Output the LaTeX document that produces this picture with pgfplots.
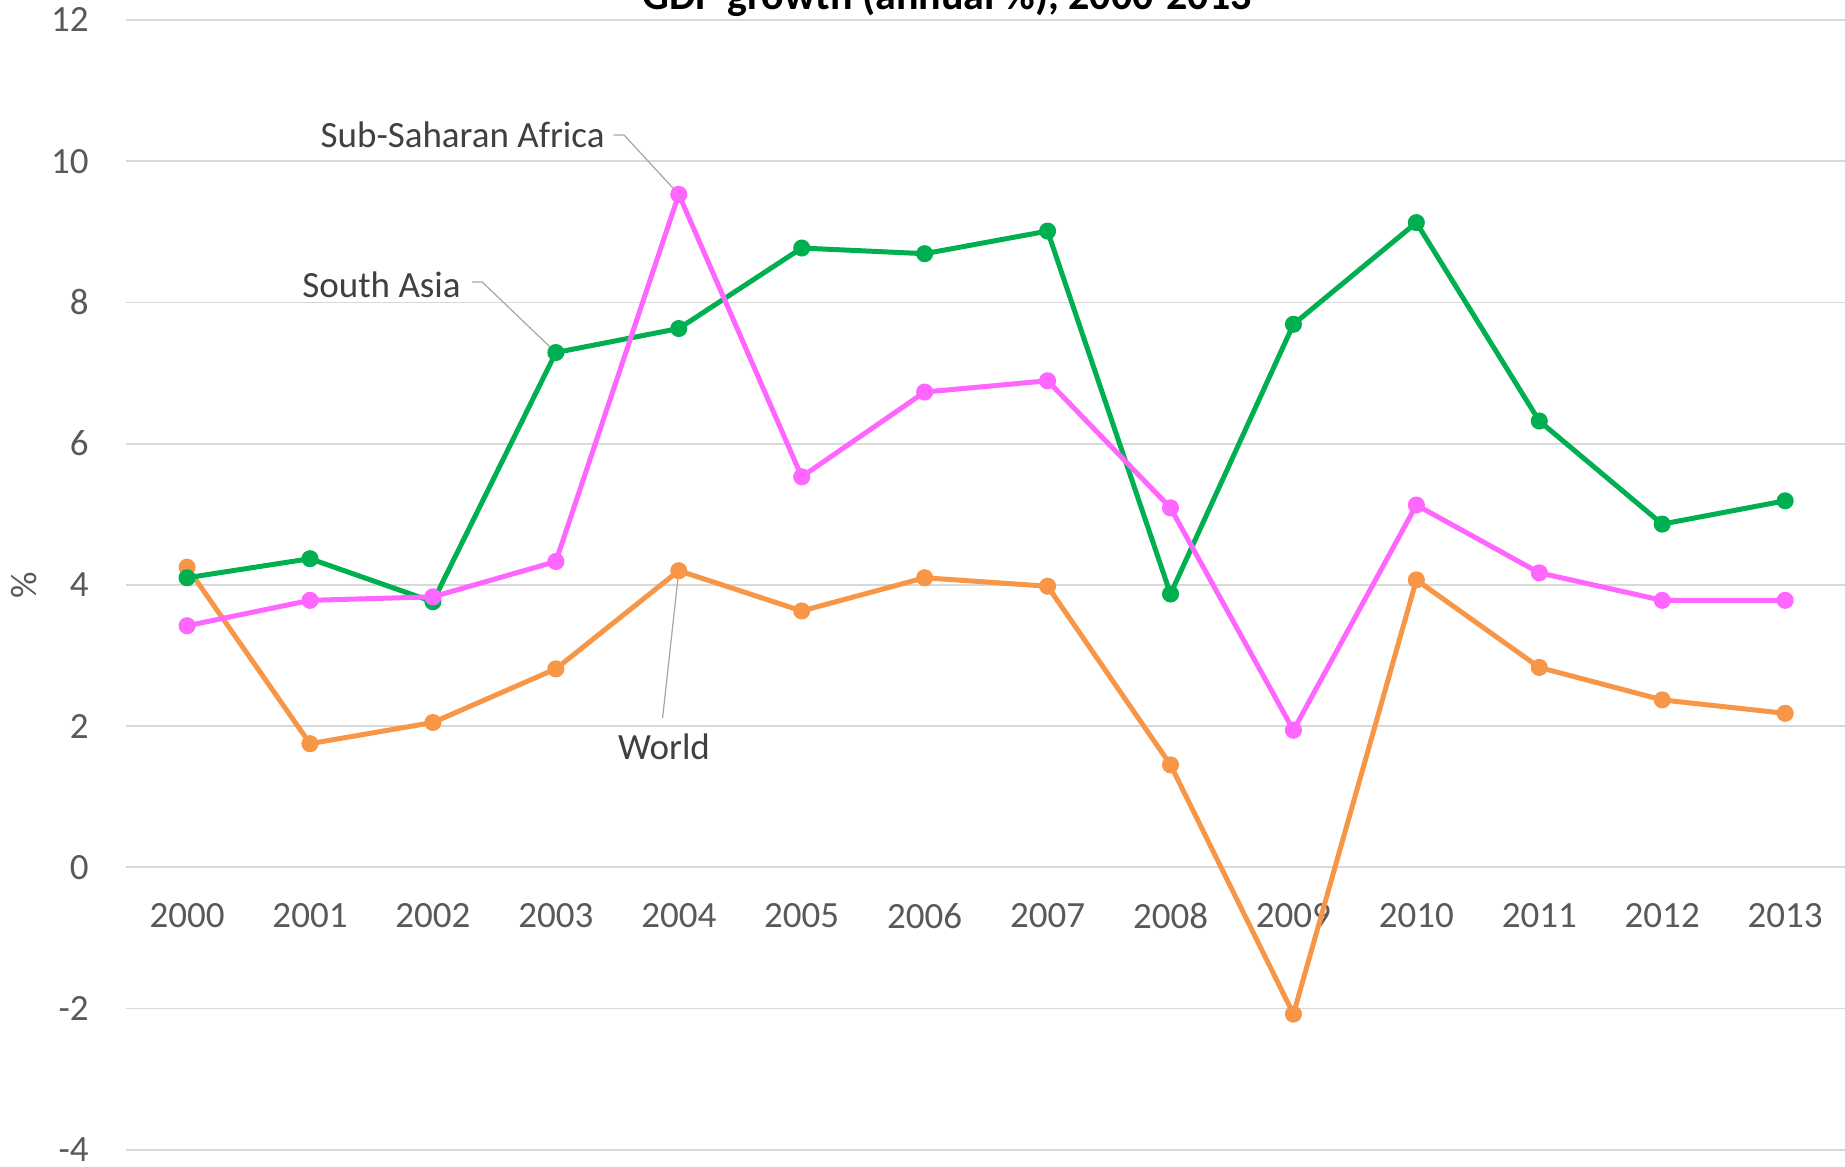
\documentclass[border=0pt]{standalone}
\usepackage{pgfplots}
\pgfplotsset{compat=1.18}
\usepackage{fontspec}
\setmainfont{Carlito}

\definecolor{worldc}{HTML}{F79646}
\definecolor{sasiac}{HTML}{00B050}
\definecolor{ssac}{HTML}{FF66FF}
\definecolor{gridc}{HTML}{D9D9D9}
\definecolor{tickc}{HTML}{595959}
\definecolor{labc}{HTML}{404040}
\definecolor{leadc}{HTML}{A6A6A6}

% GDP growth, annual %, index 0 = 2000
\pgfplotstableread{
x world sasia ssa
0  4.25 4.10 3.42
1  1.75 4.37 3.78
2  2.05 3.76 3.83
3  2.81 7.29 4.33
4  4.20 7.63 9.53
5  3.63 8.77 5.53
6  4.10 8.69 6.73
7  3.98 9.01 6.89
8  1.45 3.87 5.09
9  -2.08 7.69 1.94
10 4.07 9.13 5.13
11 2.83 6.32 4.17
12 2.37 4.86 3.78
13 2.18 5.19 3.78
}\gdpdata

\begin{document}
\begin{tikzpicture}
\begin{axis}[
  name=ax,
  scale only axis,
  width=860.45pt, height=564.8pt,
  xmin=-0.5, xmax=13.5,
  ymin=-4, ymax=12,
  clip=false,
  axis line style={draw=none},
  major tick length=0pt,
  xtick={0,...,13},
  xticklabels={2000,2001,2002,2003,2004,2005,2006,2007,2008,2009,2010,2011,2012,2013},
  ytick={-4,-2,0,2,4,6,8,10,12},
  yticklabels={-4,-2,0,2,4,6,8,10,12},
  ymajorgrids,
  major grid style={draw=gridc, line width=0.9pt},
  every tick label/.append style={font=\fontsize{18.5}{22}\selectfont, text=tickc, inner sep=0pt},
  y tick label style={anchor=east, xshift=-18.3pt},
  x tick label style={anchor=center, yshift=116.8pt},
  every axis plot/.append style={line width=2.5pt, mark=*, mark size=3pt},
]
\addplot[color=worldc, mark options={fill=worldc, draw=worldc}] table[x=x, y=world] {\gdpdata};
\addplot[color=sasiac, mark options={fill=sasiac, draw=sasiac}] table[x=x, y=sasia] {\gdpdata};
\addplot[color=ssac, mark options={fill=ssac, draw=ssac}] table[x=x, y=ssa] {\gdpdata};

% series labels with leader lines
\node[anchor=east, inner sep=0pt, text=labc, font=\fontsize{18.5}{22}\selectfont]
  at (axis cs:3.40,10.37) {Sub-Saharan Africa};
\draw[leadc, line width=0.6pt] (axis cs:3.47,10.37) -- (axis cs:3.555,10.37) -- (axis cs:4,9.53);

\node[anchor=east, inner sep=0pt, text=labc, font=\fontsize{18.5}{22}\selectfont]
  at (axis cs:2.229,8.25) {South Asia};
\draw[leadc, line width=0.6pt] (axis cs:2.318,8.29) -- (axis cs:2.40,8.29) -- (axis cs:3,7.29);

\node[anchor=center, inner sep=0pt, text=labc, font=\fontsize{18.5}{22}\selectfont]
  at (axis cs:3.88,1.70) {World};
\draw[leadc, line width=0.6pt] (axis cs:3.868,2.11) -- (axis cs:4,4.20);

% vertical axis title
\node[rotate=90, anchor=center, inner sep=0pt, text=tickc, font=\fontsize{18.5}{22}\selectfont]
  at ([xshift=-51pt]rel axis cs:0,0.5) {\%};

% chart title
\node[anchor=base, inner sep=0pt, font=\fontsize{21}{25}\selectfont\bfseries]
  at ([yshift=5.25pt]rel axis cs:0.4773,1) {GDP growth (annual \%), 2000-2013};
\end{axis}
\pgfresetboundingbox
\useasboundingbox ([xshift=-62.8pt, yshift=-8.2pt]ax.south west) rectangle ([xshift=-0.8pt, yshift=10pt]ax.north east);
\end{tikzpicture}
\end{document}
